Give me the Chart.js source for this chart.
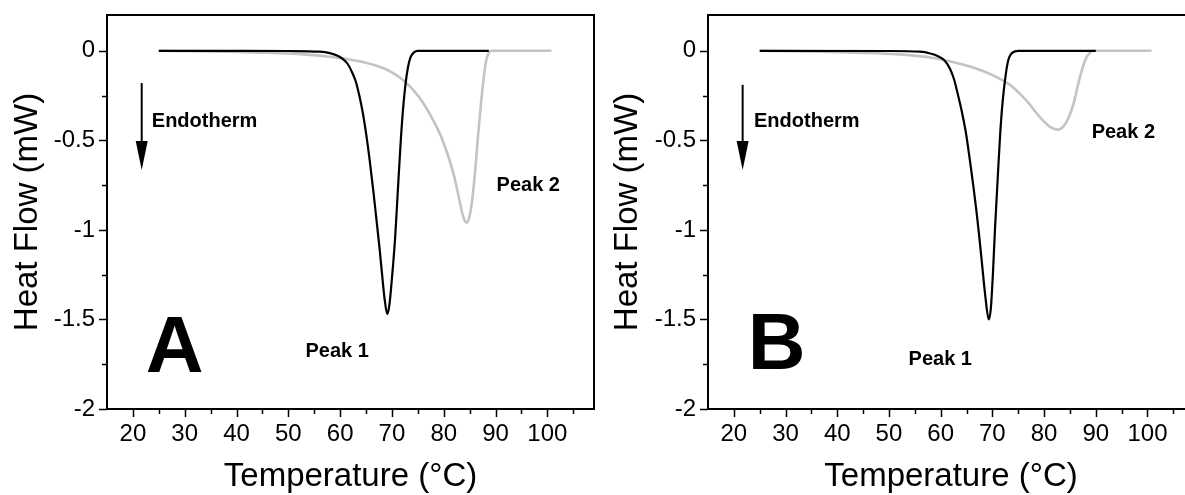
<!DOCTYPE html>
<html>
<head>
<meta charset="utf-8">
<script src="https://cdn.jsdelivr.net/npm/chart.js@4"></script>
<style>
  html, body { margin: 0; padding: 0; background: #fff; width: 1185px; height: 495px; overflow: hidden; }
  canvas { position: absolute; top: 0; }
  #chartA { left: 0; }
  #chartB { left: 590px; }
</style>
</head>
<body>
<canvas id="chartA" width="600" height="495"></canvas>
<canvas id="chartB" width="610" height="495"></canvas>
<script>
// ── data ─────────────────────────────────────────────────────────────────────

const xTicks = [20, 25, 30, 35, 40, 45, 50, 55, 60, 65, 70, 75, 80, 85, 90, 95, 100, 105];
const xLabels = ['20', '', '30', '', '40', '', '50', '', '60', '', '70', '', '80', '', '90', '', '100', ''];
const yTicks = [0, -0.25, -0.5, -0.75, -1, -1.25, -1.5, -1.75, -2];
const yLabels = ['0', '', '-0.5', '', '-1', '', '-1.5', '', '-2'];

// panel A, peak 1 (black)
const tempA1 = [25, 40, 50, 56, 58, 59.5, 60.5, 61.5, 62.3, 63, 63.7, 64.4, 65, 65.7, 66.4, 67, 67.6, 68.1, 68.6, 69.1,
  69.5, 70, 70.6, 71.1, 71.6, 72.1, 72.6, 73.1, 73.6, 74.2, 75, 80, 88.7];
const flowA1 = [0, 0, -0.001, -0.005, -0.013, -0.027, -0.045, -0.075, -0.12, -0.17, -0.25, -0.35, -0.46, -0.61, -0.78, -0.94, -1.1, -1.25, -1.39, -1.47,
  -1.42, -1.27, -1.05, -0.8, -0.55, -0.34, -0.19, -0.09, -0.035, -0.01, 0, 0, 0];

// panel A, peak 2 (grey)
const tempA2 = [25, 35, 45, 53, 58, 61, 65, 68, 70, 72, 74, 76, 78, 79.5, 81, 82, 83, 83.7, 84.4,
  85, 85.5, 86, 86.6, 87.2, 87.8, 88.3, 88.8, 89.2, 95, 100.8];
const flowA2 = [0, -0.003, -0.01, -0.02, -0.033, -0.045, -0.066, -0.093, -0.12, -0.16, -0.215, -0.29, -0.39, -0.48, -0.6, -0.7, -0.83, -0.92, -0.96,
  -0.92, -0.83, -0.69, -0.48, -0.29, -0.13, -0.04, -0.006, 0, 0, 0];

// panel B, peak 1 (black)
const tempB1 = [25, 50, 56, 58, 59.5, 60.8, 61.8, 62.6, 63.3, 64.1, 64.9, 65.6, 66.3, 66.9, 67.4, 68, 68.6, 69.3,
  69.7, 70.1, 70.5, 71, 71.5, 72, 72.6, 73.1, 73.7, 74.4, 75, 80, 90];
const flowB1 = [0, -0.001, -0.005, -0.015, -0.03, -0.055, -0.1, -0.16, -0.24, -0.34, -0.46, -0.6, -0.75, -0.89, -1.02, -1.19, -1.36, -1.5,
  -1.44, -1.25, -1.0, -0.73, -0.47, -0.28, -0.13, -0.05, -0.015, -0.003, 0, 0, 0];

// panel B, peak 2 (grey)
const tempB2 = [25, 35, 43.8, 52, 58.6, 62, 66, 70, 73.4, 75.5, 77.1, 78.6, 80, 81.3, 82.6, 83.8,
  84.8, 85.8, 86.6, 87.4, 88.1, 88.9, 89.6, 95, 100.8];
const flowB2 = [0, -0.003, -0.01, -0.02, -0.04, -0.06, -0.09, -0.135, -0.19, -0.245, -0.295, -0.35, -0.395, -0.428, -0.44, -0.42,
  -0.37, -0.285, -0.185, -0.1, -0.042, -0.01, 0, 0, 0];

// ── helpers ──────────────────────────────────────────────────────────────────

const FONT = '"Liberation Sans", Arial, sans-serif';

function points(xs, ys) {
  return xs.map((x, i) => ({ x, y: ys[i] }));
}

function series(xs, ys, color, width) {
  return {
    data: points(xs, ys),
    borderColor: color,
    borderWidth: width,
    pointRadius: 0,
    cubicInterpolationMode: 'monotone',
    fill: false,
  };
}

// frame, tick marks and the text labels inside the plot
const framePlugin = {
  id: 'frame',
  afterDraw(chart, _args, opts) {
    const { ctx, chartArea: a } = chart;
    const x = chart.scales.x;
    const y = chart.scales.y;
    ctx.save();
    ctx.strokeStyle = '#000';
    ctx.lineWidth = 2;
    ctx.strokeRect(a.left, a.top, a.right - a.left, a.bottom - a.top);

    ctx.lineWidth = 1.5;
    ctx.beginPath();
    xTicks.forEach((v, i) => {
      const px = Math.round(x.getPixelForValue(v)) + 0.5;
      const len = xLabels[i] ? 8 : 5;
      ctx.moveTo(px, a.bottom);
      ctx.lineTo(px, a.bottom + len);
    });
    yTicks.forEach((v, i) => {
      const py = Math.round(y.getPixelForValue(v)) + 0.5;
      const len = yLabels[i] ? 8 : 5;
      ctx.moveTo(a.left, py);
      ctx.lineTo(a.left - len, py);
    });
    ctx.stroke();

    // endotherm arrow
    const ar = opts.arrow;
    const ax = x.getPixelForValue(ar.x);
    const ay0 = y.getPixelForValue(ar.y0);
    const ay1 = y.getPixelForValue(ar.y1);
    ctx.lineWidth = 2;
    ctx.beginPath();
    ctx.moveTo(ax, ay0);
    ctx.lineTo(ax, ay1 - 20);
    ctx.stroke();
    ctx.fillStyle = '#000';
    ctx.beginPath();
    ctx.moveTo(ax - 6, ay1 - 29);
    ctx.lineTo(ax + 6, ay1 - 29);
    ctx.lineTo(ax, ay1);
    ctx.closePath();
    ctx.fill();

    opts.texts.forEach((t) => {
      ctx.font = t.font;
      ctx.textAlign = 'left';
      ctx.textBaseline = t.baseline;
      ctx.fillText(t.text, x.getPixelForValue(t.x), y.getPixelForValue(t.y));
    });
    ctx.restore();
  },
};

function makeChart(id, yAxisWidth, yTitlePad, black, grey, notes) {
  return new Chart(document.getElementById(id), {
    type: 'line',
    data: { datasets: [black, grey] },
    options: {
      responsive: false,
      animation: false,
      events: [],
      layout: { padding: { top: 15, right: 6, left: 0, bottom: 0 } },
      plugins: {
        legend: { display: false },
        tooltip: { enabled: false },
        frame: notes,
      },
      scales: {
        x: {
          type: 'linear',
          min: 15,
          max: 109,
          afterBuildTicks: (s) => { s.ticks = xTicks.map((v) => ({ value: v })); },
          afterFit: (s) => { s.height = 86; s.paddingLeft = 0; s.paddingRight = 0; },
          grid: { display: false, drawTicks: false },
          border: { display: false },
          ticks: {
            autoSkip: false,
            maxRotation: 0,
            padding: 11,
            color: '#000',
            font: { family: FONT, size: 24 },
            callback: (v, i) => xLabels[i],
          },
          title: {
            display: true,
            text: 'Temperature (°C)',
            color: '#000',
            font: { family: FONT, size: 33, lineHeight: 1.1 },
            padding: { top: 0, bottom: 0 },
          },
        },
        y: {
          min: -2,
          max: 0.2,
          afterBuildTicks: (s) => { s.ticks = yTicks.map((v) => ({ value: v })); },
          afterFit: (s) => { s.width = yAxisWidth; s.paddingTop = 0; s.paddingBottom = 0; },
          grid: { display: false, drawTicks: false },
          border: { display: false },
          ticks: {
            autoSkip: false,
            padding: 12,
            color: '#000',
            font: { family: FONT, size: 24 },
            callback: (v, i) => yLabels[i],
          },
          title: {
            display: true,
            text: 'Heat Flow (mW)',
            color: '#000',
            font: { family: FONT, size: 33, lineHeight: 1.1 },
            padding: { top: yTitlePad, bottom: 0 },
          },
        },
      },
    },
    plugins: [framePlugin],
  });
}

// ── panels ───────────────────────────────────────────────────────────────────

const bold = (px) => `bold ${px}px ${FONT}`;

makeChart('chartA', 107, 10,
  series(tempA1, flowA1, '#000000', 2.2),
  series(tempA2, flowA2, '#c3c3c3', 2.6),
  {
    arrow: { x: 21.7, y0: -0.18, y1: -0.665 },
    texts: [
      { text: 'Endotherm', x: 23.65, y: -0.397, font: bold(20), baseline: 'middle' },
      { text: 'Peak 2', x: 90.2, y: -0.75, font: bold(20), baseline: 'middle' },
      { text: 'Peak 1', x: 53.3, y: -1.68, font: bold(20), baseline: 'middle' },
      { text: 'A', x: 22.5, y: -1.793, font: bold(80), baseline: 'alphabetic' },
    ],
  });

makeChart('chartB', 118, 20,
  series(tempB1, flowB1, '#000000', 2.2),
  series(tempB2, flowB2, '#c3c3c3', 2.6),
  {
    arrow: { x: 21.7, y0: -0.19, y1: -0.665 },
    texts: [
      { text: 'Endotherm', x: 23.9, y: -0.397, font: bold(20), baseline: 'middle' },
      { text: 'Peak 2', x: 89.2, y: -0.458, font: bold(20), baseline: 'middle' },
      { text: 'Peak 1', x: 53.8, y: -1.726, font: bold(20), baseline: 'middle' },
      { text: 'B', x: 22.7, y: -1.777, font: bold(80), baseline: 'alphabetic' },
    ],
  });
</script>
</body>
</html>
